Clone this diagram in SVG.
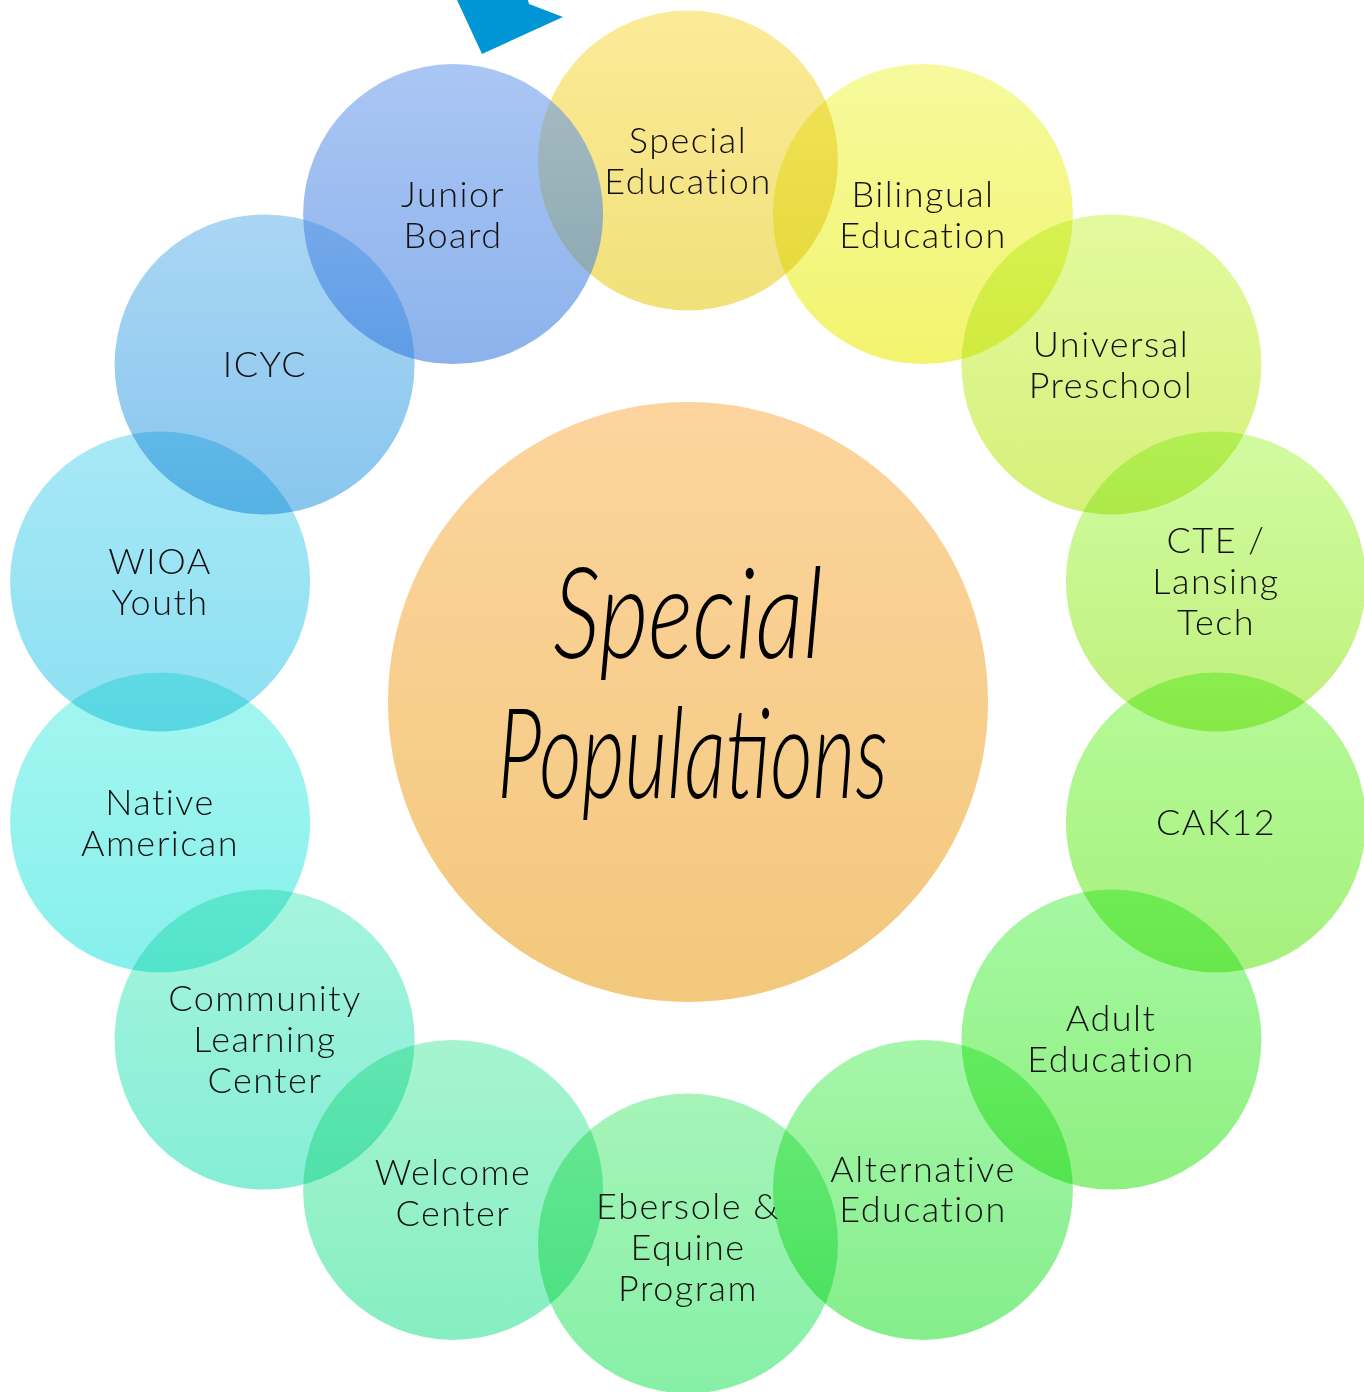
<svg xmlns="http://www.w3.org/2000/svg" width="1364" height="1392" viewBox="0 0 1364 1392">
<style>
.bubble{mix-blend-mode:multiply}
.lbl{font-family:Lato,"Noto Sans","DejaVu Sans",sans-serif;font-weight:300;font-size:36px;letter-spacing:1.5px;text-anchor:middle;fill:#111}
.script{font-family:Lato,"Noto Sans","DejaVu Sans",sans-serif;font-weight:300;font-style:italic;font-size:126px;fill:#000}
</style>
<defs>
<linearGradient id="gSE" x1="0" y1="0" x2="0" y2="1"><stop offset="0" stop-color="#FDEA98"/><stop offset="1" stop-color="#F0E17A"/></linearGradient>
<linearGradient id="gBE" x1="0" y1="0" x2="0" y2="1"><stop offset="0" stop-color="#F6FA9C"/><stop offset="1" stop-color="#F2F46E"/></linearGradient>
<linearGradient id="gUP" x1="0" y1="0" x2="0" y2="1"><stop offset="0" stop-color="#E2FA9E"/><stop offset="1" stop-color="#D6F07A"/></linearGradient>
<linearGradient id="gCTE" x1="0" y1="0" x2="0" y2="1"><stop offset="0" stop-color="#D2FBA0"/><stop offset="1" stop-color="#BFF07C"/></linearGradient>
<linearGradient id="gCAK" x1="0" y1="0" x2="0" y2="1"><stop offset="0" stop-color="#B6FA98"/><stop offset="1" stop-color="#A6F07E"/></linearGradient>
<linearGradient id="gAE" x1="0" y1="0" x2="0" y2="1"><stop offset="0" stop-color="#A6F8A2"/><stop offset="1" stop-color="#8EF080"/></linearGradient>
<linearGradient id="gALT" x1="0" y1="0" x2="0" y2="1"><stop offset="0" stop-color="#A6F6AA"/><stop offset="1" stop-color="#84EE8A"/></linearGradient>
<linearGradient id="gEB" x1="0" y1="0" x2="0" y2="1"><stop offset="0" stop-color="#A6F4B8"/><stop offset="1" stop-color="#86F0A6"/></linearGradient>
<linearGradient id="gWC" x1="0" y1="0" x2="0" y2="1"><stop offset="0" stop-color="#A6F4D0"/><stop offset="1" stop-color="#86EEC2"/></linearGradient>
<linearGradient id="gCLC" x1="0" y1="0" x2="0" y2="1"><stop offset="0" stop-color="#A6F4DE"/><stop offset="1" stop-color="#86EED6"/></linearGradient>
<linearGradient id="gNA" x1="0" y1="0" x2="0" y2="1"><stop offset="0" stop-color="#A6F6F0"/><stop offset="1" stop-color="#86F0EC"/></linearGradient>
<linearGradient id="gWI" x1="0" y1="0" x2="0" y2="1"><stop offset="0" stop-color="#A8E8F6"/><stop offset="1" stop-color="#8CE0F2"/></linearGradient>
<linearGradient id="gIC" x1="0" y1="0" x2="0" y2="1"><stop offset="0" stop-color="#AAD6F4"/><stop offset="1" stop-color="#88C6EE"/></linearGradient>
<linearGradient id="gJB" x1="0" y1="0" x2="0" y2="1"><stop offset="0" stop-color="#6497EB"/><stop offset="1" stop-color="#2E73DC"/></linearGradient>
<linearGradient id="gC" x1="0" y1="0" x2="0" y2="1"><stop offset="0" stop-color="#FDD49E"/><stop offset="1" stop-color="#F2C87C"/></linearGradient>
</defs>
<rect width="1364" height="1392" fill="#fff"/>

<g id="arrow-fragment">
<polygon points="457,0 528,0 529,4 563,17 482,54" fill="#0096D6"/>
</g>

<g id="connectors"></g>

<g id="center-node">
<circle cx="688" cy="702" r="300" fill="url(#gC)"/>
<text class="script" x="553" y="658" textLength="270" lengthAdjust="spacingAndGlyphs">Special</text>
<text class="script" x="497" y="798" textLength="391" lengthAdjust="spacingAndGlyphs">Populations</text>
</g>

<g id="node-special-education"><circle class="bubble" cx="688" cy="160.5" r="150" fill="url(#gSE)"/></g>
<g id="node-bilingual-education"><circle class="bubble" cx="922.9" cy="214.1" r="150" fill="url(#gBE)"/></g>
<g id="node-universal-preschool"><circle class="bubble" cx="1111.4" cy="364.4" r="150" fill="url(#gUP)"/></g>
<g id="node-cte-lansing-tech"><circle class="bubble" cx="1215.9" cy="581.5" r="150" fill="url(#gCTE)"/></g>
<g id="node-cak12"><circle class="bubble" cx="1215.9" cy="822.5" r="150" fill="url(#gCAK)"/></g>
<g id="node-adult-education"><circle class="bubble" cx="1111.4" cy="1039.6" r="150" fill="url(#gAE)"/></g>
<g id="node-alternative-education"><circle class="bubble" cx="922.9" cy="1189.9" r="150" fill="url(#gALT)"/></g>
<g id="node-ebersole-equine"><circle class="bubble" cx="688" cy="1243.5" r="150" fill="url(#gEB)"/></g>
<g id="node-welcome-center"><circle class="bubble" cx="453.1" cy="1189.9" r="150" fill="url(#gWC)"/></g>
<g id="node-community-learning-center"><circle class="bubble" cx="264.6" cy="1039.6" r="150" fill="url(#gCLC)"/></g>
<g id="node-native-american"><circle class="bubble" cx="160.1" cy="822.5" r="150" fill="url(#gNA)"/></g>
<g id="node-wioa-youth"><circle class="bubble" cx="160.1" cy="581.5" r="150" fill="url(#gWI)"/></g>
<g id="node-icyc"><circle class="bubble" cx="264.6" cy="364.4" r="150" fill="url(#gIC)"/></g>
<g id="node-junior-board"><circle cx="453.1" cy="214.1" r="150" fill="url(#gJB)" fill-opacity="0.55"/></g>

<g id="labels">
<text class="lbl" x="688" y="153">Special</text><text class="lbl" x="688" y="194">Education</text>
<text class="lbl" x="923" y="206.5">Bilingual</text><text class="lbl" x="923" y="247.5">Education</text>
<text class="lbl" x="1111" y="357">Universal</text><text class="lbl" x="1111" y="398">Preschool</text>
<text class="lbl" x="1216" y="553">CTE /</text><text class="lbl" x="1216" y="594">Lansing</text><text class="lbl" x="1216" y="635">Tech</text>
<text class="lbl" x="1216" y="835">CAK12</text>
<text class="lbl" x="1111" y="1031">Adult</text><text class="lbl" x="1111" y="1072">Education</text>
<text class="lbl" x="923" y="1182">Alternative</text><text class="lbl" x="923" y="1222">Education</text>
<text class="lbl" x="688" y="1219">Ebersole &amp;</text><text class="lbl" x="688" y="1260">Equine</text><text class="lbl" x="688" y="1301">Program</text>
<text class="lbl" x="453" y="1185">Welcome</text><text class="lbl" x="453" y="1226">Center</text>
<text class="lbl" x="265" y="1011">Community</text><text class="lbl" x="265" y="1052">Learning</text><text class="lbl" x="265" y="1093">Center</text>
<text class="lbl" x="160" y="815">Native</text><text class="lbl" x="160" y="856">American</text>
<text class="lbl" x="160" y="574">WIOA</text><text class="lbl" x="160" y="615">Youth</text>
<text class="lbl" x="265" y="377">ICYC</text>
<text class="lbl" x="453" y="206.5">Junior</text><text class="lbl" x="453" y="247.5">Board</text>
</g>
</svg>
